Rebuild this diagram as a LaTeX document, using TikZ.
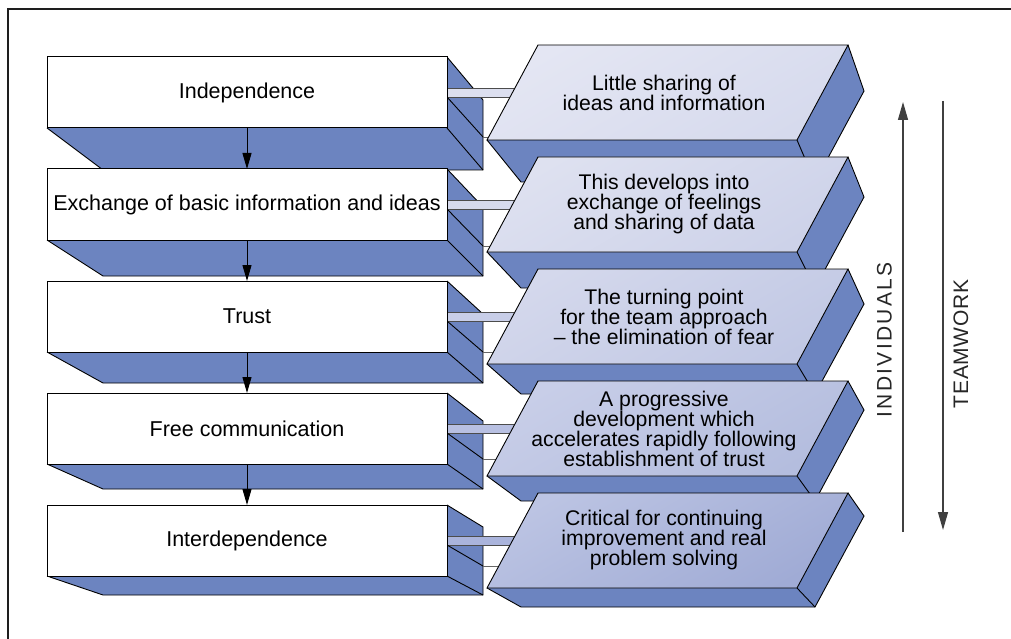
\documentclass[tikz,border=0pt]{standalone}
\usepackage{fontspec}
\setmainfont{Liberation Sans}
\newfontfamily\spacedfont[LetterSpace=11]{Liberation Sans}
\newfontfamily\spacedfontb[LetterSpace=3]{Liberation Sans}
\usetikzlibrary{arrows.meta,calc}

\definecolor{sideblue}{RGB}{108,132,192}
\definecolor{framec}{RGB}{30,30,30}
\definecolor{faceAa}{RGB}{228,230,243}\definecolor{faceAb}{RGB}{214,218,237}
\definecolor{faceBa}{RGB}{222,225,240}\definecolor{faceBb}{RGB}{205,210,233}
\definecolor{faceCa}{RGB}{212,216,236}\definecolor{faceCb}{RGB}{193,200,228}
\definecolor{faceDa}{RGB}{200,206,232}\definecolor{faceDb}{RGB}{180,189,222}
\definecolor{faceEa}{RGB}{188,196,227}\definecolor{faceEb}{RGB}{160,171,213}
\definecolor{barA}{RGB}{220,223,239}
\definecolor{barB}{RGB}{214,218,237}
\definecolor{barC}{RGB}{200,206,232}
\definecolor{barD}{RGB}{184,192,226}
\definecolor{barE}{RGB}{170,180,220}

% #1 name, #2 top, #3 dt, #4 db, #5 d, #6 bar colour, #7 text
\newcommand\LBox[7]{%
  \pgfmathsetmacro\lbB{#2+71}%
  \pgfmathsetmacro\lbBD{#2+71+#4}%
  \pgfmathsetmacro\lbTD{#2+#3}%
  \pgfmathsetmacro\lbBarT{#2+31}%
  \pgfmathsetmacro\lbBarB{#2+40}%
  \pgfmathsetmacro\lbBarD{#2+40+#5}%
  \pgfmathsetmacro\lbCY{#2+35.5}%
  \fill[sideblue] (47,\lbB) -- (103,\lbBD) -- (483,\lbBD) -- (483,\lbTD) -- (447,#2) -- (447,\lbB) -- cycle;
  \draw[edge] (47,\lbB) -- (103,\lbBD) -- (483,\lbBD) -- (483,\lbTD) -- (447,#2);
  \draw[edge] (447,\lbB) -- (483,\lbBD);
  \fill[#6] (447,\lbBarT) rectangle (530,\lbBarB);
  \draw[baredge] (447,\lbBarT) -- (530,\lbBarT) (447,\lbBarB) -- (530,\lbBarB);
  \draw[edge] (447,\lbBarB) -- (483,\lbBarD);
  \draw[thinedge] (483,\lbBarD) -- (530,\lbBarD);
  \node[lbox] (#1) at (247,\lbCY) {#7};
}

% #1 name, #2 top, #3 dyt, #4 dyb, #5 light, #6 dark, #7 text
\newcommand\RBox[7]{%
  \pgfmathsetmacro\rbB{#2+95}%
  \pgfmathsetmacro\rbBD{#2+95+#4}%
  \pgfmathsetmacro\rbTD{#2+#3}%
  \pgfmathsetmacro\rbCY{#2+47.5}%
  \fill[sideblue] (487,\rbB) -- (521,\rbBD) -- (815,\rbBD) -- (864,\rbTD) -- (848,#2) -- (797,\rbB) -- cycle;
  \draw[edge] (487,\rbB) -- (521,\rbBD) -- (815,\rbBD) -- (864,\rbTD) -- (848,#2);
  \draw[edge] (797,\rbB) -- (815,\rbBD);
  \shade[top color=#5, bottom color=#6, shading angle=30] (538,#2) -- (848,#2) -- (797,\rbB) -- (487,\rbB) -- cycle;
  \draw[edge] (538,#2) -- (848,#2) -- (797,\rbB) -- (487,\rbB) -- cycle;
  \node[rtext] (#1) at (664,\rbCY) {#7};
}

\begin{document}
\begin{tikzpicture}[x=1pt,y=-1pt,
  edge/.style={draw=black, line width=0.9pt, line join=miter},
  baredge/.style={draw=black!70, line width=0.8pt},
  thinedge/.style={draw=black!60, line width=0.8pt},
  lbox/.style={draw=black, line width=1pt, fill=white, minimum width=400pt,
    minimum height=71pt, inner sep=0pt, outer sep=0pt,
    font=\fontsize{21.5}{25}\selectfont},
  rtext/.style={align=center, inner sep=0pt, font=\fontsize{21.2}{20}\selectfont},
  vtext/.style={inner sep=0pt, text=black!85, rotate=90},
  flow/.style={draw=black, line width=1pt, -{Triangle[length=16pt,width=9pt]}},
  sidearrow/.style={draw=black!75, line width=1.3pt, -{Triangle[length=18pt,width=10pt]}}]
\useasboundingbox (0,0) rectangle (1011,639);

\draw[line width=2.6pt, framec] (8,640) -- (8,9) -- (1012,9);

\LBox{L1}{57}{43}{42}{40}{barA}{Independence}
\RBox{R1}{45}{46}{42}{faceAa}{faceAb}{Little sharing of\\ideas and information}
\LBox{L2}{169}{38}{36}{37}{barB}{Exchange of basic information and ideas}
\RBox{R2}{157}{40}{36}{faceBa}{faceBb}{This develops into\\exchange of feelings\\and sharing of data}
\LBox{L3}{281}{33}{31}{31}{barC}{Trust}
\RBox{R3}{269}{35}{30}{faceCa}{faceCb}{The turning point\\for the team approach\\– the elimination of fear}
\LBox{L4}{393}{28}{25}{26}{barD}{Free communication}
\RBox{R4}{381}{29}{25}{faceDa}{faceDb}{A progressive\\development which\\accelerates rapidly following\\establishment of trust}
\LBox{L5}{505}{22}{19}{21}{barE}{Interdependence}
\RBox{R5}{493}{23}{19}{faceEa}{faceEb}{Critical for continuing\\improvement and real\\problem solving}

\draw[flow] (L1.south) -- (L2.north);
\draw[flow] (L2.south) -- (L3.north);
\draw[flow] (L3.south) -- (L4.north);
\draw[flow] (L4.south) -- (L5.north);

\coordinate (indlow) at (903,532);
\coordinate (indtop) at (903,102);
\coordinate (teamtop) at (943,101);
\coordinate (teamlow) at (943,530);
\draw[sidearrow] (indlow) -- (indtop);
\draw[sidearrow] (teamtop) -- (teamlow);
\node[vtext, font={\spacedfont\fontsize{21}{25}\selectfont}] (ind) at (884.5,340) {INDIVIDUALS};
\node[vtext, font={\spacedfontb\fontsize{21}{25}\selectfont}] (team) at (961,344) {TEAMWORK};
\end{tikzpicture}
\end{document}
